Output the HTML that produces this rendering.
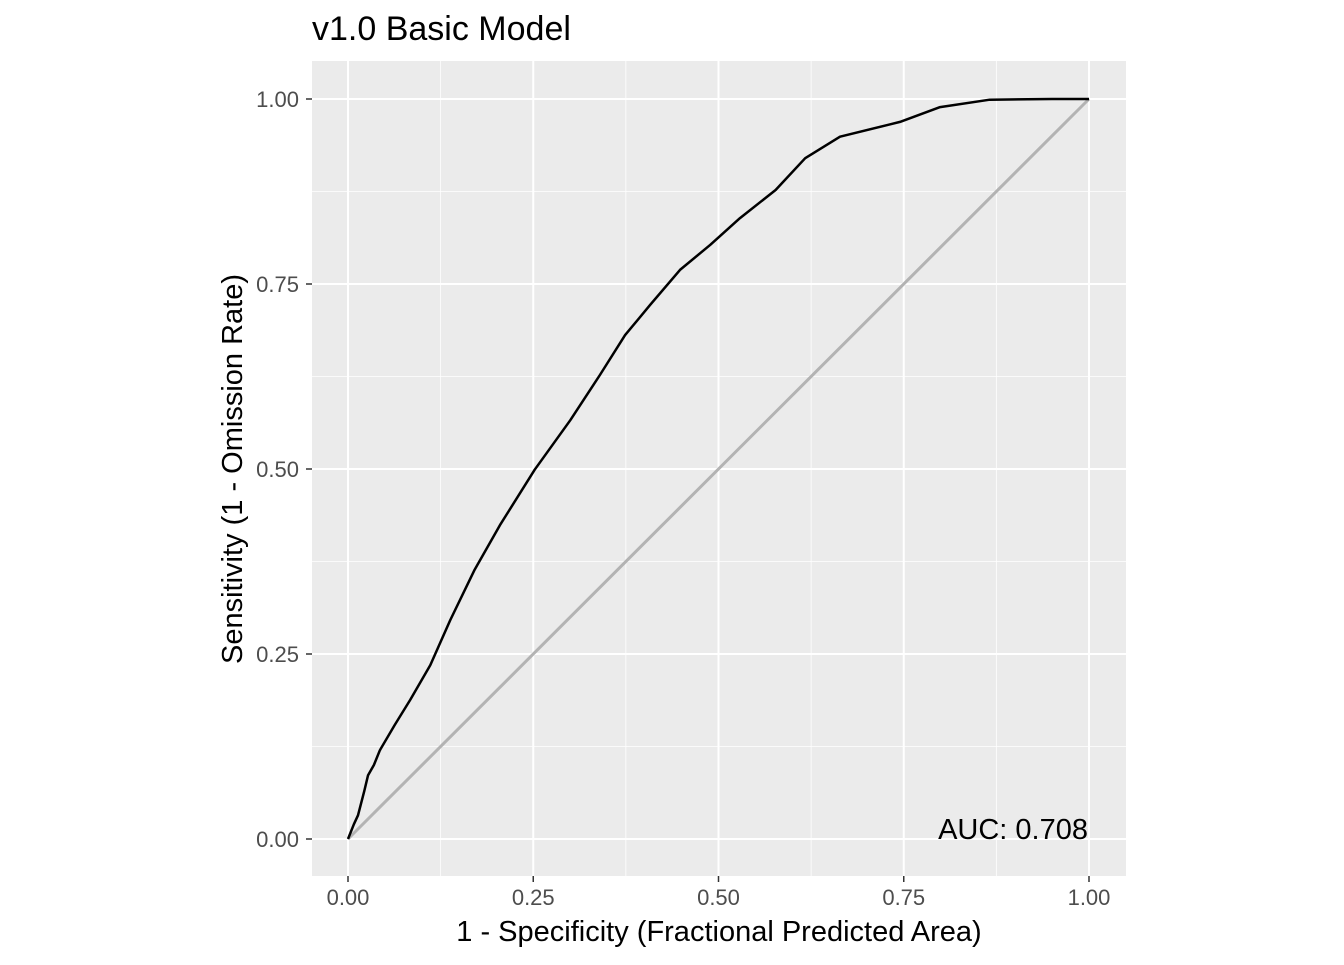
<!DOCTYPE html>
<html><head><meta charset="utf-8"><style>
body{margin:0;background:#fff;}
svg text{font-family:"Liberation Sans",Arial,sans-serif;}
</style></head><body>
<svg id="chart" width="1344" height="960" xmlns="http://www.w3.org/2000/svg">
<text x="312" y="40" font-size="34" fill="#000">v1.0 Basic Model</text>
<rect x="312" y="61" width="814" height="815" fill="#EBEBEB"/>
<g id="grid"></g>
<g id="axes"></g>
<g id="marks"></g>
<text x="1088" y="839" font-size="29" text-anchor="end" fill="#000">AUC: 0.708</text>
<text x="719" y="941" font-size="29" text-anchor="middle" fill="#000">1 - Specificity (Fractional Predicted Area)</text>
<text x="0" y="0" font-size="29" text-anchor="middle" fill="#000" transform="translate(242,469) rotate(-90)">Sensitivity (1 - Omission Rate)</text>
</svg>
<script>
const fpr = [0,0.008,0.0135,0.022,0.027,0.035,0.043,0.063,0.084,0.111,0.138,0.171,0.205,0.252,0.300,0.340,0.374,0.408,0.448,0.489,0.529,0.577,0.617,0.664,0.745,0.799,0.866,0.95,1];
const tpr = [0,0.02,0.032,0.065,0.086,0.10,0.12,0.154,0.188,0.235,0.296,0.364,0.424,0.499,0.566,0.627,0.681,0.722,0.769,0.803,0.839,0.877,0.920,0.949,0.969,0.989,0.999,1.0,1.0];
const ticks = [0,0.25,0.5,0.75,1];
const tickLabels = ["0.00","0.25","0.50","0.75","1.00"];
const minorTicks = [0.125,0.375,0.625,0.875];
const NS="http://www.w3.org/2000/svg";
const sx = v => 348 + v*741;
const sy = v => 839 - v*740;
function mk(tag, attrs, parent){const e=document.createElementNS(NS,tag);for(const k in attrs)e.setAttribute(k,attrs[k]);document.getElementById(parent).appendChild(e);return e;}
minorTicks.forEach(t=>{
  const a=mk('line',{x1:sx(t),x2:sx(t),y1:61,y2:876,stroke:'#fff','stroke-width':0.8},'grid');
  
  
  const b=mk('line',{x1:312,x2:1126,y1:sy(t),y2:sy(t),stroke:'#fff','stroke-width':0.8},'grid');
  
  
});
ticks.forEach((t,i)=>{
  const a=mk('line',{x1:sx(t),x2:sx(t),y1:61,y2:876,stroke:'#fff','stroke-width':2},'grid');
  
  
  const b=mk('line',{x1:312,x2:1126,y1:sy(t),y2:sy(t),stroke:'#fff','stroke-width':2},'grid');
  
  
  const tx=mk('line',{x1:sx(t),x2:sx(t),y1:876,y2:882,stroke:'#333','stroke-width':1.5},'axes');
  
  
  const ty=mk('line',{x1:306,x2:312,y1:sy(t),y2:sy(t),stroke:'#333','stroke-width':1.5},'axes');
  
  
  const lx=mk('text',{x:sx(t),y:905,'font-size':22,'text-anchor':'middle',fill:'#4D4D4D'},'axes');
  lx.textContent=tickLabels[i];
  
  
  const ly=mk('text',{x:299,y:sy(t)+8,'font-size':22,'text-anchor':'end',fill:'#4D4D4D'},'axes');
  ly.textContent=tickLabels[i];
  
  
});
const d=mk('line',{x1:sx(0),y1:sy(0),x2:sx(1),y2:sy(1),stroke:'#B3B3B3','stroke-width':3},'marks');


const pts=fpr.map((v,i)=>sx(v).toFixed(1)+','+sy(tpr[i]).toFixed(1)).join(' ');
const c=mk('polyline',{points:pts,fill:'none',stroke:'#000','stroke-width':2.5,'stroke-linejoin':'round'},'marks');


</script>
</body></html>
